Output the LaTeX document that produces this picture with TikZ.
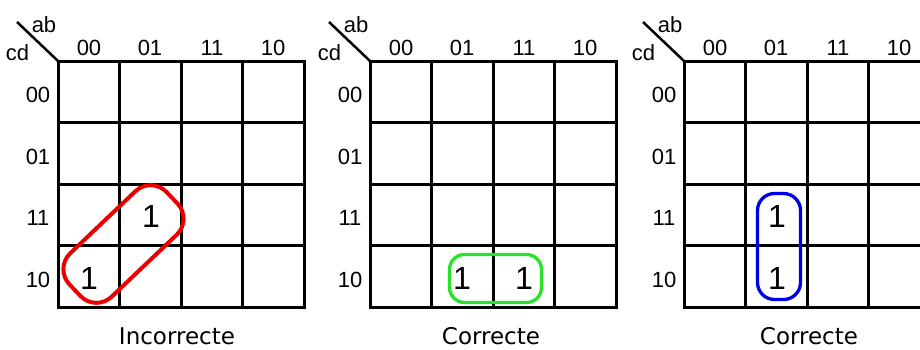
\documentclass[tikz,border=0pt]{standalone}
\usepackage{fontspec}
\setmainfont{Liberation Sans}
\newfontfamily\capfont{DejaVu Sans}
\definecolor{loopred}{RGB}{235,0,0}
\definecolor{loopgreen}{RGB}{40,225,40}
\definecolor{loopblue}{RGB}{0,0,230}
\tikzset{
  gridline/.style={line width=3pt,black},
  lab/.style={font=\fontsize{22}{26}\selectfont, inner sep=0pt},
  one/.style={font=\fontsize{32}{36}\selectfont, inner sep=0pt},
  captxt/.style={font=\capfont\fontsize{23}{28}\selectfont, inner sep=0pt, anchor=base},
  grouploop/.style={line width=3.3pt, rounded corners=16pt, inner sep=0pt, outer sep=0pt}
}
\begin{document}
\begin{tikzpicture}[x=1pt,y=-1pt]
\useasboundingbox (0,0) rectangle (920,349);
\fill[white] (0,0) rectangle (920,349);
\clip (0,0) rectangle (920,349);
\foreach \x/\n/\cx/\cap in {58/a/177/Incorrecte, 370/b/491/Correcte, 684/c/809/Correcte}{
  % grid
  \coordinate (\n-nw) at (\x,61);
  \coordinate (\n-se) at ({\x+246},307);
  \foreach \i in {1,2,3}{
    \draw[gridline] ({\x+61.5*\i},61) -- ({\x+61.5*\i},307);
    \draw[gridline] (\x,{61+61.5*\i}) -- ({\x+246},{61+61.5*\i});
  }
  \draw[gridline] (\n-nw) rectangle (\n-se);
  % corner diagonal
  \coordinate (\n-dg) at ({\x-41},22);
  \draw[line width=2.5pt] (\n-dg) -- (\n-nw);
  \node[lab] (\n-ab) at ({\x-14},25) {ab};
  \node[lab] (\n-cd) at ({\x-40.5},53) {cd};
  % column labels
  \node[lab] (\n-col0) at ({\x+31},48) {00};
  \node[lab] (\n-col1) at ({\x+92},48) {01};
  \node[lab] (\n-col2) at ({\x+154},48) {11};
  \node[lab] (\n-col3) at ({\x+215},48) {10};
  % row labels
  \node[lab] (\n-row0) at ({\x-20},95) {00};
  \node[lab] (\n-row1) at ({\x-20},157) {01};
  \node[lab] (\n-row2) at ({\x-20},218) {11};
  \node[lab] (\n-row3) at ({\x-20},280) {10};
  % caption
  \node[captxt] (\n-cap) at (\cx,344.5) {\cap};
}
% map 1 (incorrect)
\node[one] (a-one1) at (151,216) {1};
\node[one] (a-one2) at (89,278) {1};
\node[grouploop, draw=loopred, line width=4pt, minimum width=134pt, minimum height=60pt, rounded corners=22pt, rotate=43.6] (a-loop) at (123.5,244) {};
% map 2
\node[one] (b-one1) at (462,278) {1};
\node[one] (b-one2) at (524,278) {1};
\node[grouploop, draw=loopgreen, minimum width=92pt, minimum height=48pt, rounded corners=15pt] (b-loop) at (495.5,278.5) {};
% map 3
\node[one] (c-one1) at (777,216) {1};
\node[one] (c-one2) at (777,278) {1};
\node[grouploop, draw=loopblue, minimum width=43pt, minimum height=106pt, rounded corners=17pt] (c-loop) at (779,246.5) {};
\end{tikzpicture}
\end{document}
